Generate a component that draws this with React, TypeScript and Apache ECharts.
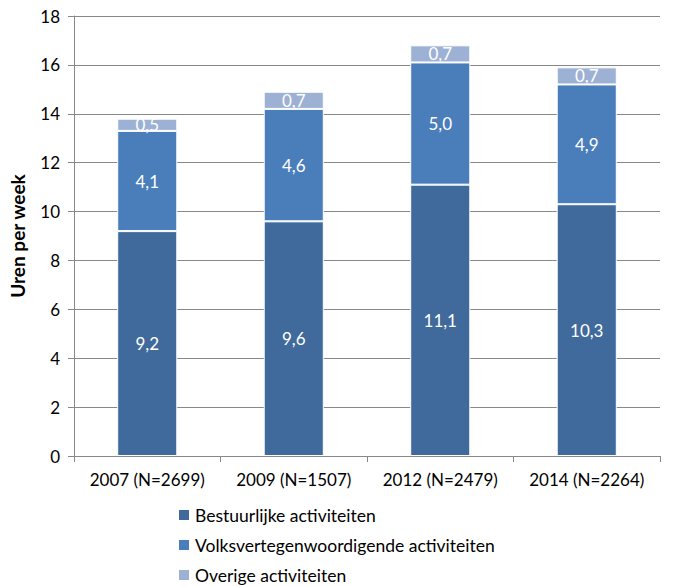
import React, { useEffect, useRef } from "react";
import * as echarts from "echarts";

const categories = ["2007 (N=2699)", "2009 (N=1507)", "2012 (N=2479)", "2014 (N=2264)"];
const bestuurlijk = [9.2, 9.6, 11.1, 10.3];
const volks = [4.1, 4.6, 5.0, 4.9];
const overig = [0.5, 0.7, 0.7, 0.7];
const seriesNames = ["Bestuurlijke activiteiten", "Volksvertegenwoordigende activiteiten", "Overige activiteiten"];
const colors = ["#3F6A9B", "#4A7EBB", "#9DB1D4"];

const FONT = "Lato";

export default function App() {
  const ref = useRef<HTMLDivElement>(null);
  useEffect(() => {
    const chart = echarts.init(ref.current!, null, { renderer: "svg" });
    const fmt = (p: any) => String(p.value.toFixed(1)).replace(".", ",");
    const mk = (name: string, data: number[], color: string) => ({
      name,
      type: "bar",
      stack: "total",
      data,
      barWidth: "41%",
      itemStyle: { color, borderColor: "#ffffff", borderWidth: 1 },
      label: {
        show: true,
        position: "inside",
        color: "#ffffff",
        fontFamily: FONT,
        fontSize: 17,
        formatter: fmt,
      },
    });
    chart.setOption({
      animation: false,
      color: colors,
      grid: { left: 72, right: 16, top: 16, bottom: 130, containLabel: false },
      legend: {
        orient: "vertical",
        left: 177,
        top: 505,
        padding: 0,
        itemGap: 10,
        itemWidth: 12,
        itemHeight: 12,
        icon: "rect",
        textStyle: { fontFamily: FONT, fontSize: 17.5, color: "#000", lineHeight: 20 },
        data: seriesNames,
      },
      xAxis: {
        type: "category",
        data: categories,
        axisLine: { lineStyle: { color: "#888888" } },
        axisTick: { show: true, length: 6, lineStyle: { color: "#888888" } },
        axisLabel: { fontFamily: FONT, fontSize: 17, color: "#000", margin: 15, interval: 0 },
      },
      yAxis: {
        type: "value",
        min: 0,
        max: 18,
        interval: 2,
        name: "Uren per week",
        nameLocation: "middle",
        nameGap: 47,
        nameRotate: 90,
        nameTextStyle: { fontFamily: FONT, fontSize: 19, fontWeight: "bold", color: "#000" },
        axisLine: { show: true, lineStyle: { color: "#888888" } },
        axisTick: { show: true, length: 6, lineStyle: { color: "#888888" } },
        axisLabel: { fontFamily: FONT, fontSize: 17, color: "#000", margin: 14 },
        splitLine: { lineStyle: { color: "#888888" } },
      },
      series: [
        mk(seriesNames[0], bestuurlijk, colors[0]),
        mk(seriesNames[1], volks, colors[1]),
        mk(seriesNames[2], overig, colors[2]),
      ],
    });
    return () => chart.dispose();
  }, []);
  return <div ref={ref} style={{ width: 676, height: 586, position: "absolute", left: 0, top: 0, background: "#fff" }} />;
}
